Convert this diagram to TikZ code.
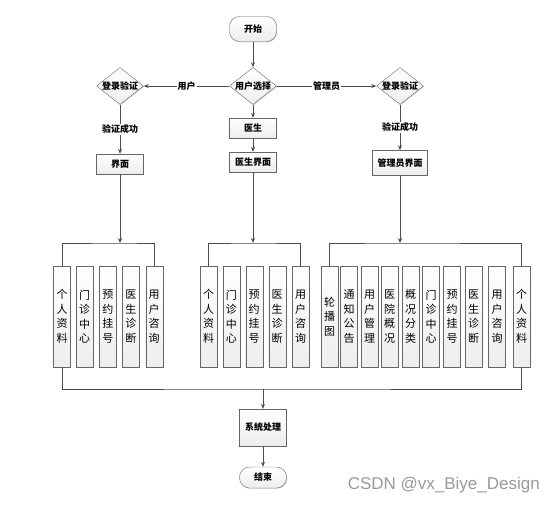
\documentclass[tikz,border=0pt]{standalone}
\usepackage{fontspec}
\setmainfont{Noto Sans CJK SC}
\newfontfamily\wmfont{Liberation Sans}
\usetikzlibrary{shapes.geometric,shadows,arrows.meta}

\begin{document}
\begin{tikzpicture}[x=1pt,y=-1pt,
	line/.style={draw=black!70,line width=0.8pt},
	arrow/.style={line,-{Stealth[length=5pt,width=4pt]}},
	shadebox/.style={draw=black!60,top color=white,bottom color=black!7,drop shadow={shadow xshift=0.8pt,shadow yshift=-0.8pt,fill=black!30}},
	procbox/.style={shadebox,minimum width=47pt,minimum height=20pt,inner sep=0pt,font=\fontsize{9}{10}\selectfont\bfseries},
	termbox/.style={procbox,rounded corners=10pt},
	decision/.style={shadebox,diamond,minimum width=47pt,minimum height=37pt,inner sep=0pt,label={[font=\fontsize{9}{10}\selectfont\bfseries]center:#1}},
	vbox/.style={shadebox,minimum width=17pt,minimum height=101pt,inner sep=0pt,align=center,font=\fontsize{11}{14.5}\selectfont},
	tag/.style={fill=white,inner sep=1pt,font=\fontsize{9}{10}\selectfont\bfseries}]
	\useasboundingbox (0,0) rectangle (552,507);
	% top part
	\node[termbox,minimum height=25pt] (start) at (253,29) {开始};
	\node[decision=用户选择] (choose) at (253,86) {};
	\node[decision=登录验证] (loginuser) at (120,86) {};
	\node[decision=登录验证] (loginadmin) at (400,86) {};
	\node[procbox] (doctor) at (253,128) {医生};
	\node[procbox] (userui) at (120,164) {界面};
	\node[procbox] (doctorui) at (253,162) {医生界面};
	\node[procbox,minimum width=55pt,minimum height=25pt] (adminui) at (400,163) {管理员界面};
	\draw[arrow] (start) -- (choose);
	\draw[arrow] (choose) -- node[tag] {用户} (loginuser);
	\draw[arrow] (choose) -- node[tag] {管理员} (loginadmin);
	\draw[arrow] (loginuser) -- node[tag] {验证成功} (userui);
	\draw[arrow] (loginadmin) -- node[tag] {验证成功} (adminui);
	\draw[arrow] (choose) -- (doctor);
	\draw[arrow] (doctor) -- (doctorui);
	% user modules
	\node[vbox] (u1) at (62,316.5) {个\\人\\资\\料};
	\node[vbox] (u2) at (84.7,316.5) {门\\诊\\中\\心};
	\node[vbox] (u3) at (107.8,316.5) {预\\约\\挂\\号};
	\node[vbox] (u4) at (130.8,316.5) {医\\生\\诊\\断};
	\node[vbox] (u5) at (154.2,316.5) {用\\户\\咨\\询};
	% doctor modules
	\node[vbox] (d1) at (208.7,316.5) {个\\人\\资\\料};
	\node[vbox] (d2) at (231.3,316.5) {门\\诊\\中\\心};
	\node[vbox] (d3) at (254.2,316.5) {预\\约\\挂\\号};
	\node[vbox] (d4) at (277.2,316.5) {医\\生\\诊\\断};
	\node[vbox] (d5) at (300.5,316.5) {用\\户\\咨\\询};
	% admin modules
	\node[vbox] (a1) at (329.5,316.5) {轮\\播\\图};
	\node[vbox] (a2) at (349,316.5) {通\\知\\公\\告};
	\node[vbox] (a3) at (369.5,316.5) {用\\户\\管\\理};
	\node[vbox] (a4) at (389.5,316.5) {医\\院\\概\\况};
	\node[vbox] (a5) at (410.5,316.5) {概\\况\\分\\类};
	\node[vbox] (a6) at (431,316.5) {门\\诊\\中\\心};
	\node[vbox] (a7) at (452,316.5) {预\\约\\挂\\号};
	\node[vbox] (a8) at (473.5,316.5) {医\\生\\诊\\断};
	\node[vbox] (a9) at (497,316.5) {用\\户\\咨\\询};
	\node[vbox] (a10) at (521.5,316.5) {个\\人\\资\\料};
	% brackets
	\coordinate (userbar) at (120,243);
	\coordinate (doctorbar) at (253,243);
	\coordinate (adminbar) at (400,243);
	\draw[arrow] (userui) -- (userbar);
	\draw[arrow] (doctorui) -- (doctorbar);
	\draw[arrow] (adminui) -- (adminbar);
	\draw[line] (u1.north) |- (userbar) -| (u5.north);
	\draw[line] (d1.north) |- (doctorbar) -| (d5.north);
	\draw[line] (a1.north) |- (adminbar) -| (a10.north);
	% bottom part
	\node[procbox,minimum height=37pt] (system) at (263,427.5) {系统处理};
	\node[termbox,minimum height=21pt] (stop) at (263,477.5) {结束};
	\coordinate (endbar) at (263,389);
	\draw[line] (u1.south) |- (endbar) -| (a10.south);
	\draw[arrow] (endbar) -- (system);
	\draw[arrow] (system) -- (stop);
	\node[text=black!40,font=\wmfont\fontsize{17}{19}\selectfont,anchor=east,inner sep=0pt] (mark) at (540,485) {CSDN @vx\_Biye\_Design};
\end{tikzpicture}
\end{document}
